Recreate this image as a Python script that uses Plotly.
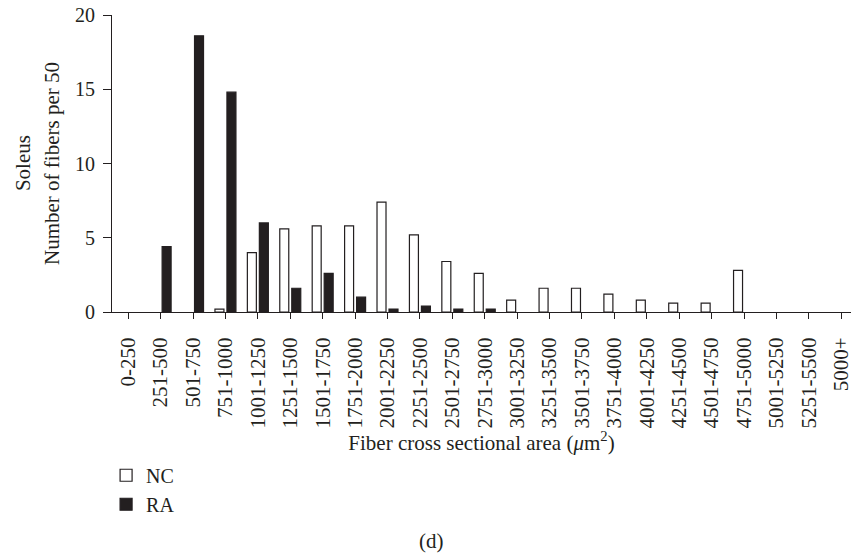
import plotly.graph_objects as go

categories = ["0-250", "251-500", "501-750", "751-1000", "1001-1250", "1251-1500",
              "1501-1750", "1751-2000", "2001-2250", "2251-2500", "2501-2750",
              "2751-3000", "3001-3250", "3251-3500", "3501-3750", "3751-4000",
              "4001-4250", "4251-4500", "4501-4750", "4751-5000", "5001-5250",
              "5251-5500", "5000+"]
nc_values = [0, 0, 0, 0.2, 4.0, 5.6, 5.8, 5.8, 7.4, 5.2, 3.4, 2.6, 0.8, 1.6, 1.6,
             1.2, 0.8, 0.6, 0.6, 2.8, 0, 0, 0]
ra_values = [0, 4.4, 18.6, 14.8, 6.0, 1.6, 2.6, 1.0, 0.2, 0.4, 0.2, 0.2, 0, 0, 0,
             0, 0, 0, 0, 0, 0, 0, 0]
y_ticks = [0, 5, 10, 15, 20]

INK = "#231f20"
FONT = "Liberation Serif"


def nonzero(vals):
    # empty bins are drawn as no bar at all
    return [v if v > 0 else None for v in vals]


fig = go.Figure()
fig.add_trace(go.Bar(x=categories, y=nonzero(nc_values), name="NC",
                     marker=dict(color="white", line=dict(color=INK, width=1.2))))
fig.add_trace(go.Bar(x=categories, y=nonzero(ra_values), name="RA",
                     marker=dict(color=INK, line=dict(color=INK, width=1.2))))

fig.update_layout(
    width=851, height=554,
    margin=dict(l=112, r=0, t=15, b=242, autoexpand=False),
    paper_bgcolor="white", plot_bgcolor="white",
    barmode="group", bargap=0.26, bargroupgap=0.25,
    font=dict(family=FONT, size=20, color=INK),
    showlegend=True,
    legend=dict(x=-0.008, xanchor="left", y=-0.484, yanchor="top",
                font=dict(size=20), tracegroupgap=0, bgcolor="rgba(0,0,0,0)"),
    annotations=[
        dict(text="Soleus", x=-0.121, y=0.5, xref="paper", yref="paper",
             xanchor="center", yanchor="middle",
             textangle=-90, showarrow=False, font=dict(size=21)),
        dict(text="(d)", x=0.433, y=-0.77, xref="paper", yref="paper",
             xanchor="center", yanchor="middle",
             showarrow=False, font=dict(size=21)),
    ],
)

fig.update_xaxes(
    type="category", range=[-0.5, 22.3], automargin=False,
    showline=True, linecolor=INK, linewidth=1.2,
    ticks="outside", ticklen=6, tickwidth=1.2, tickcolor=INK,
    tickangle=-90, tickfont=dict(size=21), ticklabelstandoff=10,
    showgrid=False, zeroline=False,
    title=dict(text="Fiber cross sectional area (<i>μ</i>m<sup>2</sup>)",
               font=dict(size=21), standoff=4),
)
fig.update_yaxes(
    range=[0, 20], tickvals=y_ticks, automargin=False,
    showline=True, linecolor=INK, linewidth=1.2,
    ticks="outside", ticklen=8, tickwidth=1.2, tickcolor=INK,
    tickfont=dict(size=20), ticklabelstandoff=4,
    showgrid=False, zeroline=False,
    title=dict(text="Number of fibers per 50", font=dict(size=21), standoff=9),
)

# remove the default 8px page margin so the 851x554 figure fills the window
fig.write_html("out.html", config={"displayModeBar": False},
               post_script="document.body.style.margin='0';")
